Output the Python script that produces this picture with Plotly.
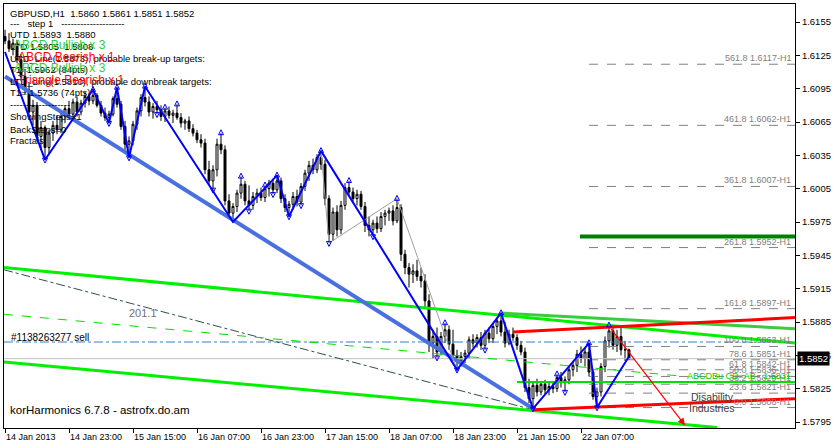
import plotly.graph_objects as go

# ---------------- data ----------------
opens = [
 1.6142, 1.6138, 1.6131, 1.6136, 1.6121, 1.6106, 1.6094, 1.6074, 1.6080, 1.6052,
 1.6060, 1.6042, 1.6055, 1.6062, 1.6058, 1.6070, 1.6077, 1.6072, 1.6083, 1.6074,
 1.6082, 1.6088, 1.6084, 1.6089, 1.6080, 1.6073, 1.6069, 1.6072, 1.6086, 1.6081,
 1.6061, 1.6045, 1.6048, 1.6063, 1.6075, 1.6087, 1.6083, 1.6074, 1.6079, 1.6076,
 1.6070, 1.6075, 1.6071, 1.6073, 1.6069, 1.6064, 1.6066, 1.6059, 1.6055, 1.6049,
 1.6046, 1.6022, 1.6012, 1.6022, 1.6045, 1.6040, 1.5994, 1.5983, 1.5989, 1.6001,
 1.6009, 1.5994, 1.5990, 1.5998, 1.6001, 1.5997, 1.6005, 1.6010, 1.6004, 1.6012,
 1.5996, 1.5988, 1.5991, 1.5998, 1.5993, 1.6007, 1.6019, 1.6026, 1.6022, 1.6033,
 1.6027, 1.5996, 1.5964, 1.5984, 1.5968, 1.5990, 1.6006, 1.6002, 1.5996, 1.6000,
 1.5989, 1.5972, 1.5968, 1.5974, 1.5969, 1.5980, 1.5983, 1.5985, 1.5976, 1.5988,
 1.5946, 1.5934, 1.5928, 1.5931, 1.5926, 1.5922, 1.5904, 1.5866, 1.5872, 1.5858,
 1.5872, 1.5878, 1.5865, 1.5855, 1.5850, 1.5854, 1.5857, 1.5869, 1.5866, 1.5871,
 1.5864, 1.5875, 1.5870, 1.5881, 1.5886, 1.5876, 1.5866, 1.5874, 1.5871, 1.5864,
 1.5858, 1.5826, 1.5816, 1.5828, 1.5822, 1.5829, 1.5824, 1.5827, 1.5825, 1.5835,
 1.5831, 1.5833, 1.5842, 1.5846, 1.5856, 1.5852, 1.5858, 1.5840, 1.5818, 1.5822,
 1.5845, 1.5868, 1.5877, 1.5864, 1.5872, 1.5860, 1.5860]
highs = [
 1.6148, 1.6145, 1.6140, 1.6139, 1.6126, 1.6112, 1.6101, 1.6085, 1.6083, 1.6066,
 1.6062, 1.6058, 1.6066, 1.6071, 1.6074, 1.6080, 1.6084, 1.6086, 1.6088, 1.6085,
 1.6092, 1.6091, 1.6094, 1.6091, 1.6084, 1.6078, 1.6075, 1.6088, 1.6096, 1.6084,
 1.6066, 1.6052, 1.6066, 1.6078, 1.6090, 1.6097, 1.6088, 1.6082, 1.6084, 1.6080,
 1.6078, 1.6079, 1.6076, 1.6081, 1.6073, 1.6068, 1.6070, 1.6063, 1.6058, 1.6054,
 1.6050, 1.6030, 1.6026, 1.6050, 1.6055, 1.6044, 1.6000, 1.5992, 1.6004, 1.6016,
 1.6012, 1.6008, 1.6002, 1.6005, 1.6006, 1.6008, 1.6013, 1.6014, 1.6017, 1.6015,
 1.6000, 1.5994, 1.6002, 1.6004, 1.6010, 1.6022, 1.6030, 1.6032, 1.6036, 1.6039,
 1.6031, 1.5999, 1.5988, 1.5990, 1.5994, 1.6010, 1.6012, 1.6006, 1.6004, 1.6003,
 1.5993, 1.5980, 1.5977, 1.5980, 1.5984, 1.5986, 1.5988, 1.5990, 1.5996, 1.5991,
 1.5950, 1.5938, 1.5937, 1.5941, 1.5934, 1.5928, 1.5910, 1.5878, 1.5880, 1.5876,
 1.5884, 1.5882, 1.5878, 1.5860, 1.5858, 1.5860, 1.5872, 1.5874, 1.5874, 1.5876,
 1.5878, 1.5880, 1.5884, 1.5889, 1.5893, 1.5885, 1.5878, 1.5880, 1.5874, 1.5868,
 1.5862, 1.5834, 1.5832, 1.5834, 1.5832, 1.5833, 1.5830, 1.5832, 1.5838, 1.5840,
 1.5836, 1.5845, 1.5850, 1.5860, 1.5863, 1.5862, 1.5866, 1.5843, 1.5826, 1.5848,
 1.5872, 1.5882, 1.5880, 1.5878, 1.5880, 1.5868, 1.5861]
lows = [
 1.6135, 1.6128, 1.6125, 1.6118, 1.6102, 1.6090, 1.6070, 1.6062, 1.6048, 1.6040,
 1.6031, 1.6036, 1.6048, 1.6054, 1.6055, 1.6064, 1.6068, 1.6069, 1.6070, 1.6071,
 1.6078, 1.6080, 1.6081, 1.6078, 1.6070, 1.6066, 1.6064, 1.6070, 1.6078, 1.6058,
 1.6040, 1.6033, 1.6044, 1.6058, 1.6070, 1.6079, 1.6070, 1.6068, 1.6072, 1.6066,
 1.6065, 1.6068, 1.6064, 1.6067, 1.6060, 1.6058, 1.6056, 1.6052, 1.6046, 1.6042,
 1.6018, 1.6008, 1.6004, 1.6016, 1.6036, 1.5990, 1.5978, 1.5975, 1.5984, 1.5996,
 1.5990, 1.5985, 1.5986, 1.5992, 1.5994, 1.5993, 1.5998, 1.6000, 1.6001, 1.5992,
 1.5984, 1.5980, 1.5986, 1.5989, 1.5990, 1.6003, 1.6012, 1.6018, 1.6019, 1.6022,
 1.5990, 1.5956, 1.5958, 1.5962, 1.5964, 1.5986, 1.5998, 1.5992, 1.5990, 1.5986,
 1.5966, 1.5962, 1.5962, 1.5965, 1.5966, 1.5972, 1.5976, 1.5972, 1.5974, 1.5940,
 1.5928, 1.5916, 1.5920, 1.5922, 1.5916, 1.5898, 1.5858, 1.5852, 1.5853, 1.5855,
 1.5866, 1.5860, 1.5850, 1.5842, 1.5845, 1.5848, 1.5852, 1.5862, 1.5862, 1.5860,
 1.5860, 1.5866, 1.5866, 1.5874, 1.5872, 1.5862, 1.5864, 1.5868, 1.5860, 1.5855,
 1.5822, 1.5812, 1.5807, 1.5818, 1.5819, 1.5820, 1.5819, 1.5821, 1.5822, 1.5826,
 1.5822, 1.5829, 1.5836, 1.5840, 1.5848, 1.5845, 1.5836, 1.5815, 1.5808, 1.5818,
 1.5840, 1.5862, 1.5860, 1.5858, 1.5855, 1.5850, 1.5851]
closes = [
 1.6138, 1.6131, 1.6136, 1.6121, 1.6106, 1.6094, 1.6074, 1.6080, 1.6052, 1.6060,
 1.6042, 1.6055, 1.6062, 1.6058, 1.6070, 1.6077, 1.6072, 1.6083, 1.6074, 1.6082,
 1.6088, 1.6084, 1.6089, 1.6080, 1.6073, 1.6069, 1.6072, 1.6086, 1.6081, 1.6061,
 1.6045, 1.6048, 1.6063, 1.6075, 1.6087, 1.6083, 1.6074, 1.6079, 1.6076, 1.6070,
 1.6075, 1.6071, 1.6073, 1.6069, 1.6064, 1.6066, 1.6059, 1.6055, 1.6049, 1.6046,
 1.6022, 1.6012, 1.6022, 1.6045, 1.6040, 1.5994, 1.5983, 1.5989, 1.6001, 1.6009,
 1.5994, 1.5990, 1.5998, 1.6001, 1.5997, 1.6005, 1.6010, 1.6004, 1.6012, 1.5996,
 1.5988, 1.5991, 1.5998, 1.5993, 1.6007, 1.6019, 1.6026, 1.6022, 1.6033, 1.6027,
 1.5996, 1.5964, 1.5984, 1.5968, 1.5990, 1.6006, 1.6002, 1.5996, 1.6000, 1.5989,
 1.5972, 1.5968, 1.5974, 1.5969, 1.5980, 1.5983, 1.5985, 1.5976, 1.5988, 1.5946,
 1.5934, 1.5928, 1.5931, 1.5926, 1.5922, 1.5904, 1.5866, 1.5872, 1.5858, 1.5872,
 1.5878, 1.5865, 1.5855, 1.5850, 1.5854, 1.5857, 1.5869, 1.5866, 1.5871, 1.5864,
 1.5875, 1.5870, 1.5881, 1.5886, 1.5876, 1.5866, 1.5874, 1.5871, 1.5864, 1.5858,
 1.5826, 1.5816, 1.5828, 1.5822, 1.5829, 1.5824, 1.5827, 1.5825, 1.5835, 1.5831,
 1.5833, 1.5842, 1.5846, 1.5856, 1.5852, 1.5858, 1.5840, 1.5818, 1.5822, 1.5845,
 1.5868, 1.5877, 1.5864, 1.5872, 1.5860, 1.5860, 1.5852]
bars = list(range(len(closes)))

# zigzag pivots (bar index, price)
zigzag_bars = [0, 10, 22, 26, 28, 31, 35, 57, 68, 71, 79, 113, 124, 132, 146, 148, 156]
zigzag_prices = [1.6128, 1.6031, 1.6094, 1.6064, 1.6096, 1.6033, 1.6097, 1.5975, 1.6017,
                 1.5980, 1.6039, 1.5842, 1.5893, 1.5807, 1.5866, 1.5808, 1.5854]
gray_zz_bars = [79, 81, 98, 113]
gray_zz_prices = [1.6039, 1.5956, 1.5996, 1.5842]

frac_up = [22, 28, 35, 40, 43, 54, 59, 65, 68, 79, 86, 98, 110, 124, 138, 146, 151]
frac_dn = [10, 26, 31, 38, 52, 61, 67, 71, 74, 81, 92, 108, 113, 120, 132, 140, 148]

# trend / channel lines: (bar0, price0, bar1, price1)
trend_blue = (0, 1.6106, 132, 1.5807)
green_a = (-0.25, 1.5934, 197.5, 1.5866)
green_b = (124, 1.5893, 197.5, 1.5879)
green_low = (-0.25, 1.5849, 178, 1.5790)
green_dot = (-0.25, 1.5892, 170, 1.5836)
slate_dash = (-0.25, 1.5932, 132, 1.5806)
red_up = (127, 1.5876, 197.5, 1.5889)
red_low = (132, 1.5806, 197.5, 1.5816)
red_arrow = (151.25, 1.5880, 170, 1.5792)

sell_price = 1.5867
bid_price = 1.5852
t1_price = 1.5962
abcd_price = 1.5831

fib_ratio = ["561.8", "461.8", "361.8", "261.8", "161.8", "100.0", "78.6", "61.8", "50.0", "38.2", "23.6", "0.0"]
fib_price = [1.6117, 1.6062, 1.6007, 1.5952, 1.5897, 1.5863, 1.5851, 1.5842, 1.5836, 1.5829, 1.5821, 1.5808]

ytick_vals = [1.6155, 1.6125, 1.6095, 1.6065, 1.6035, 1.6005, 1.5975, 1.5945, 1.5915, 1.5885, 1.5855, 1.5825, 1.5795]
xtick_vals = [0, 16, 32, 48, 64, 80, 96, 112, 128, 144]
xtick_text = ["14 Jan 2013", "14 Jan 23:00", "15 Jan 15:00", "16 Jan 07:00", "16 Jan 23:00",
              "17 Jan 15:00", "18 Jan 07:00", "18 Jan 23:00", "21 Jan 15:00", "22 Jan 07:00"]

info_lines = ["GBPUSD,H1  1.5860 1.5861 1.5851 1.5852",
              "---   step 1   --------------------",
              "UTD 1.5893  1.5880",
              "LTD 1.5805  1.5808",
              "UTD_Line(1.5873), probable break-up targets:",
              "T1=1.5962 (84pts)",
              "LTD_Line(1.5810), probable downbreak targets:",
              "T1= 1.5736 (74pts)",
              "-------------------",
              "ShowingSteps=1",
              "BackSteps=0",
              "Fractals"]
pattern_lines = ["ABCD Bullish x 3", "-ABCD Bearish x 1", "ABCD Bullish x 3", "-Triangle Bearish x 1"]
pattern_colors = ["#33CC33", "#FF0000", "#33CC33", "#FF0000"]

# ---------------- layout helpers (pixel -> paper) ----------------
L, R, T, B = 4, 795, 4, 428
def px(x):
    return (x - L) / (R - L)
def py(y):
    return (B - y) / (B - T)

fig = go.Figure()

fig.add_trace(go.Candlestick(
    x=bars, open=opens, high=highs, low=lows, close=closes,
    increasing=dict(line=dict(color="black", width=1), fillcolor="white"),
    decreasing=dict(line=dict(color="black", width=1), fillcolor="black"),
    whiskerwidth=0, showlegend=False, hoverinfo="skip"))

def seg(s, color, width, dash="solid"):
    fig.add_trace(go.Scatter(x=[s[0], s[2]], y=[s[1], s[3]], mode="lines",
                             line=dict(color=color, width=width, dash=dash),
                             showlegend=False, hoverinfo="skip"))

def hline(x0, x1, y, color, width, dash="solid"):
    fig.add_trace(go.Scatter(x=[x0, x1], y=[y, y], mode="lines",
                             line=dict(color=color, width=width, dash=dash),
                             showlegend=False, hoverinfo="skip"))

# horizontal lines
hline(-0.25, 197.5, bid_price, "#C0C0C0", 1)
hline(-0.25, 197.5, sell_price, "#3A7FC0", 1, "dashdot")
for p in fib_price:
    hline(146, 197.5, p, "#808080", 1, "dash")
hline(143.75, 197.5, t1_price, "#008000", 4)
hline(128, 197.5, abcd_price, "#00E000", 2)

# sloping lines
seg(slate_dash, "#2F4F4F", 1, "dashdot")
seg(green_dot, "#00E000", 1, "dash")
seg(green_a, "#00F000", 3)
seg(green_b, "#3CCB3C", 3)
seg(green_low, "#00F000", 3)
seg(red_up, "#FF0000", 3)
seg(red_low, "#FF0000", 3)
seg(trend_blue, "#4A70E0", 4)

# gray zigzag and blue zigzag
fig.add_trace(go.Scatter(x=gray_zz_bars, y=gray_zz_prices, mode="lines",
                         line=dict(color="#A0A0A0", width=1), showlegend=False, hoverinfo="skip"))
fig.add_trace(go.Scatter(x=zigzag_bars, y=zigzag_prices, mode="lines",
                         line=dict(color="#0000FF", width=2), showlegend=False, hoverinfo="skip"))

# fractals
fig.add_trace(go.Scatter(x=frac_up, y=[highs[i] + 0.0003 for i in frac_up], mode="markers",
                         marker=dict(symbol="arrow-up-open", size=5, color="#0000FF",
                                     line=dict(width=1, color="#0000FF")),
                         showlegend=False, hoverinfo="skip"))
fig.add_trace(go.Scatter(x=frac_dn, y=[lows[i] - 0.0003 for i in frac_dn], mode="markers",
                         marker=dict(symbol="arrow-down-open", size=5, color="#0000FF",
                                     line=dict(width=1, color="#0000FF")),
                         showlegend=False, hoverinfo="skip"))

ann = []
# red arrow
ann.append(dict(x=red_arrow[2], y=red_arrow[3], ax=red_arrow[0], ay=red_arrow[1],
                xref="x", yref="y", axref="x", ayref="y", showarrow=True,
                arrowhead=2, arrowsize=1.2, arrowwidth=1.2, arrowcolor="#FF0000", text=""))

# fib labels
for r, p in zip(fib_ratio, fib_price):
    ann.append(dict(x=1, xref="paper", y=p, yref="y", xanchor="right", yanchor="bottom",
                    xshift=-2, yshift=-1, showarrow=False, text=f"{r} {p:.4f}-H1",
                    font=dict(size=9, color="#808080")))

ann.append(dict(x=1, xref="paper", y=abcd_price, yref="y", xanchor="right", yanchor="bottom",
                xshift=-2, yshift=-1, showarrow=False, text="ABCDBu CD=AB   1.5831",
                font=dict(size=9, color="#00CC00")))

# in-chart texts
ann.append(dict(x=px(9), y=py(337), xref="paper", yref="paper", xanchor="left", yanchor="middle",
                showarrow=False, text="#1138263277 sell", font=dict(size=10, color="black")))
ann.append(dict(x=px(143), y=py(313), xref="paper", yref="paper", xanchor="center", yanchor="middle",
                showarrow=False, text="201.1", font=dict(size=11, color="#707070")))
ann.append(dict(x=px(8), y=py(410), xref="paper", yref="paper", xanchor="left", yanchor="middle",
                showarrow=False, text="korHarmonics 6.7.8 - astrofx.do.am",
                font=dict(size=11.5, color="black")))
ann.append(dict(x=px(712), y=py(397), xref="paper", yref="paper", xanchor="center", yanchor="middle",
                showarrow=False, text="Disability", font=dict(size=10.5, color="#404040")))
ann.append(dict(x=px(712), y=py(408), xref="paper", yref="paper", xanchor="center", yanchor="middle",
                showarrow=False, text="Industries", font=dict(size=10.5, color="#404040")))

# info block
info_y = [13, 24, 35, 46, 58, 69, 81, 93, 105, 117, 129, 141]
for t, yy in zip(info_lines, info_y):
    ann.append(dict(x=px(8), y=py(yy), xref="paper", yref="paper", xanchor="left", yanchor="middle",
                    showarrow=False, text=t, font=dict(size=9.5, color="black")))
pat_y = [45, 57, 68, 80]
for t, c, yy in zip(pattern_lines, pattern_colors, pat_y):
    ann.append(dict(x=px(12), y=py(yy), xref="paper", yref="paper", xanchor="left", yanchor="middle",
                    showarrow=False, text=t, font=dict(size=12, color=c)))

# x tick labels (left aligned at tick)
for v, t in zip(xtick_vals, xtick_text):
    ann.append(dict(x=v, y=0, xref="x", yref="paper", xanchor="left", yanchor="top",
                    xshift=-1, yshift=-2, showarrow=False, text=t, font=dict(size=9, color="black")))

# current price box
ann.append(dict(x=1, y=bid_price, xref="paper", yref="y", xanchor="left", yanchor="middle",
                xshift=2, showarrow=False, text="1.5852", bgcolor="black",
                font=dict(size=9.5, color="white"), borderpad=1))

fig.update_layout(
    width=837, height=448,
    margin=dict(l=L, r=837 - R, t=T, b=448 - B),
    paper_bgcolor="white", plot_bgcolor="white",
    font=dict(family="Liberation Sans", color="black"),
    showlegend=False,
    annotations=ann,
    xaxis=dict(range=[-0.25, 197.5], showgrid=False, zeroline=False, showline=True,
               linecolor="black", linewidth=1, mirror=True, ticks="outside", ticklen=4,
               tickcolor="black", tickvals=xtick_vals, showticklabels=False,
               rangeslider=dict(visible=False), fixedrange=True),
    yaxis=dict(range=[1.57896, 1.61712], side="right", showgrid=False, zeroline=False,
               showline=True, linecolor="black", linewidth=1, mirror=True, ticks="outside",
               ticklen=4, tickcolor="black", tickvals=ytick_vals,
               ticktext=[f"{v:.4f}" for v in ytick_vals], tickfont=dict(size=9.5, color="black"),
               fixedrange=True),
)

fig.write_html("out.html", config={"displayModeBar": False},
               post_script="document.body.style.margin='0px';")
